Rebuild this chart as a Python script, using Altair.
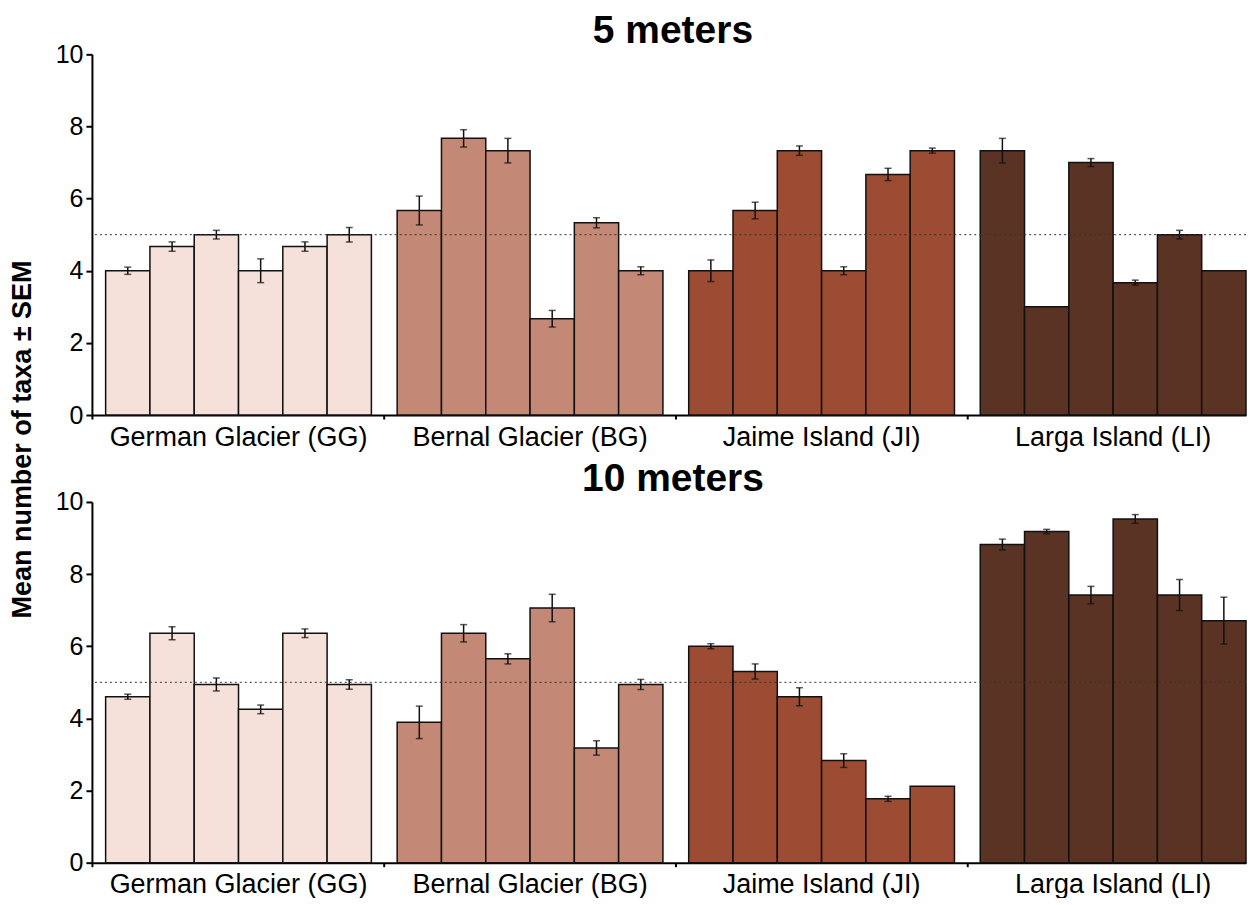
import altair as alt
import pandas as pd

sites = ["German Glacier (GG)", "Bernal Glacier (BG)", "Jaime Island (JI)", "Larga Island (LI)"]
colors = ["#F5E1DA", "#C48876", "#9B4C33", "#5A3324"]
y_ticks = [0, 2, 4, 6, 8, 10]

mean_5m = [
    [4.0, 4.67, 5.0, 4.0, 4.67, 5.0],
    [5.67, 7.67, 7.33, 2.67, 5.33, 4.0],
    [4.0, 5.67, 7.33, 4.0, 6.67, 7.33],
    [7.33, 3.0, 7.0, 3.67, 5.0, 4.0],
]
sem_5m = [
    [0.10, 0.13, 0.12, 0.33, 0.13, 0.20],
    [0.40, 0.24, 0.34, 0.23, 0.14, 0.11],
    [0.30, 0.23, 0.13, 0.11, 0.17, 0.07],
    [0.34, 0.0, 0.11, 0.07, 0.12, 0.0],
]
mean_10m = [
    [4.6, 6.36, 4.94, 4.25, 6.36, 4.94],
    [3.89, 6.36, 5.65, 7.06, 3.18, 4.94],
    [6.0, 5.3, 4.6, 2.83, 1.77, 2.12],
    [8.82, 9.18, 7.42, 9.53, 7.42, 6.71],
]
sem_10m = [
    [0.07, 0.18, 0.18, 0.12, 0.12, 0.13],
    [0.45, 0.24, 0.14, 0.38, 0.20, 0.14],
    [0.07, 0.21, 0.25, 0.19, 0.07, 0.0],
    [0.15, 0.06, 0.24, 0.12, 0.43, 0.65],
]
ref_value = [5]

FONT = "Liberation Sans"
W, H = 1155, 361


def panel(title, means, sems, show_ytitle):
    rows = []
    for s, ms, es in zip(sites, means, sems):
        for i, (m, e) in enumerate(zip(ms, es)):
            rows.append(dict(site=s, idx=i, mean=m, sem=e, lo=m - e, hi=m + e))
    df = pd.DataFrame(rows)

    xaxis = alt.Axis(
        title=None, labelAngle=0, labelFontSize=27, labelFont=FONT, labelColor="black",
        labelBaseline="alphabetic", labelPadding=26, labelLimit=500, tickSize=4, tickWidth=2,
        tickColor="black", domainColor="black", domainWidth=2, grid=False,
        bandPosition=-0.0485,
    )
    x = alt.X("site:N", sort=sites,
              scale=alt.Scale(paddingInner=0.0884, paddingOuter=0.0235, align=1),
              axis=xaxis)
    xo = alt.XOffset("idx:O", scale=alt.Scale(paddingInner=0, paddingOuter=0))

    if show_ytitle:
        yaxis = alt.Axis(
            values=y_ticks, title="Mean number of taxa ± SEM", titleFontSize=27,
            titleFont=FONT, titleFontWeight="bold", titleColor="black",
            titleX=-69, titleY=385, titleAngle=-90, titleAlign="center",
            titleBaseline="middle",
            labelFontSize=25, labelFont=FONT, labelColor="black", labelPadding=3,
            tickSize=6, tickWidth=2, tickColor="black", domainColor="black",
            domainWidth=2, grid=False,
        )
    else:
        yaxis = alt.Axis(
            values=y_ticks, title=None,
            labelFontSize=25, labelFont=FONT, labelColor="black", labelPadding=3,
            tickSize=6, tickWidth=2, tickColor="black", domainColor="black",
            domainWidth=2, grid=False,
        )
    yscale = alt.Scale(domain=[0, 10], nice=False)

    base = alt.Chart(df)
    bars = base.mark_bar(stroke="#111111", strokeWidth=1.5).encode(
        x=x, xOffset=xo,
        y=alt.Y("mean:Q", scale=yscale, axis=yaxis),
        color=alt.Color("site:N", scale=alt.Scale(domain=sites, range=colors), legend=None),
    )
    err = base.transform_filter("datum.sem > 0")
    rule = err.mark_rule(color="#111111", strokeWidth=1.5).encode(
        x=x, xOffset=xo,
        y=alt.Y("lo:Q", scale=yscale, axis=yaxis), y2="hi:Q",
    )
    cap_lo = err.mark_tick(color="#111111", size=7, thickness=1.5).encode(
        x=x, xOffset=xo, y=alt.Y("lo:Q", scale=yscale, axis=yaxis),
    )
    cap_hi = err.mark_tick(color="#111111", size=7, thickness=1.5).encode(
        x=x, xOffset=xo, y=alt.Y("hi:Q", scale=yscale, axis=yaxis),
    )
    ref = alt.Chart(pd.DataFrame({"ref": ref_value})).mark_rule(
        color="#333333", strokeDash=[2, 3], strokeWidth=1
    ).encode(y=alt.Y("ref:Q", scale=yscale, axis=yaxis))

    return alt.layer(bars, rule, cap_lo, cap_hi, ref).properties(
        width=W, height=H,
        title=alt.TitleParams(
            title, fontSize=39, fontWeight="bold", font=FONT, color="black",
            frame="group", baseline="alphabetic", offset=-40, dx=4, anchor="middle",
        ),
    )


top = panel("5 meters", mean_5m, sem_5m, True)
bottom = panel("10 meters", mean_10m, sem_10m, False)

chart = alt.vconcat(top, bottom, spacing=87, bounds="flush").configure_view(
    strokeWidth=0
).properties(padding={"left": 1, "top": 4, "right": 0, "bottom": 0})

chart.save("out.html", embed_options={"renderer": "svg", "actions": False})
